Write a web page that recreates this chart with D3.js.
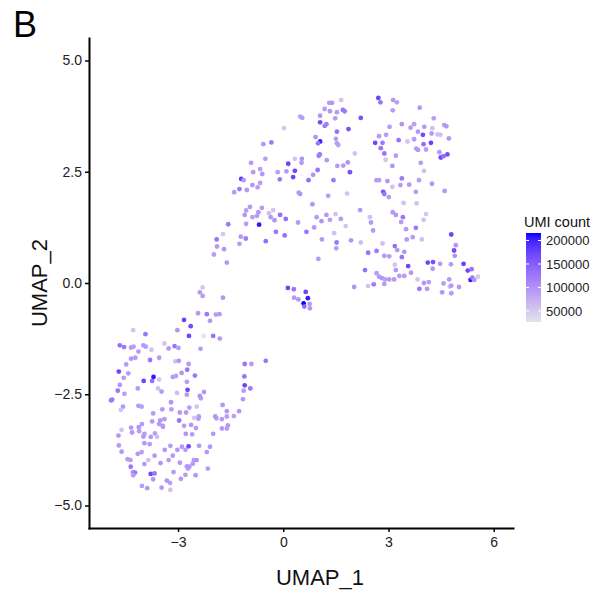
<!DOCTYPE html>
<html>
<head>
<meta charset="utf-8">
<script src="https://cdn.jsdelivr.net/npm/d3@7"></script>
<style>
	body { margin: 0; background: #fff; }
	text { font-family: "Liberation Sans", Arial, Helvetica, sans-serif; }
</style>
</head>
<body>
<div id="chart"></div>
<script>
// UMAP cells, [UMAP_1, UMAP_2, UMI count]
var cellsTop = [
	[1.31,4.05,94000],[1.39,4.05,98000],[1.18,3.91,90000],[1.33,3.86,96000],[1.53,3.84,92000],
	[1.65,4.11,56000],[1.70,3.89,130000],[1.75,3.86,122000],[0.48,3.74,86000],[0.54,3.71,92000],
	[1.05,3.76,100000],[1.48,3.70,94000],[1.05,3.61,167000],[1.18,3.53,124000],[1.23,3.57,118000],
	[1.53,3.40,132000],[0.02,3.48,52000],[0.92,3.28,98000],[1.50,3.24,92000],[1.05,3.18,200000],
	[0.99,3.14,126000],[1.53,3.14,96000],[1.57,3.10,88000],[-0.57,3.12,94000],[-0.34,3.16,122000],
	[1.04,2.89,134000],[1.01,2.86,120000],[1.24,2.76,92000],[-0.92,2.70,96000],[-0.51,2.79,90000],
	[0.53,2.79,100000],[0.52,2.70,94000],[0.33,2.79,54000],[0.14,2.68,172000],[-0.66,2.56,92000],
	[-0.60,2.45,98000],[-0.86,2.49,94000],[-0.16,2.49,88000],[0.09,2.51,96000],[0.33,2.52,170000],
	[0.98,2.54,128000],[1.54,2.63,92000],[0.85,2.43,100000],[0.28,2.38,174000],[-0.10,2.33,126000],
	[0.72,2.31,132000],[1.43,2.31,122000],[-1.20,2.34,182000],[-1.13,2.31,94000],[-0.66,2.25,92000],
	[-0.88,2.20,98000],[-0.73,2.15,90000],[-1.25,2.11,126000],[-1.04,2.09,96000],[-1.40,2.04,92000],
	[1.71,2.64,94000],[1.84,2.71,98000],[1.90,2.49,164000],[2.04,2.91,56000],[1.86,3.46,162000],
	[2.21,3.71,160000],[2.71,4.16,172000],[2.77,4.06,130000],[3.13,4.11,94000],[3.24,4.06,88000],
	[3.12,3.88,92000],[3.89,3.94,98000],[4.29,3.70,94000],[3.03,3.51,92000],[3.38,3.57,100000],
	[3.63,3.49,94000],[3.73,3.57,90000],[4.02,3.51,96000],[4.25,3.48,58000],[4.59,3.55,92000],
	[4.65,3.52,98000],[2.73,3.30,94000],[2.93,3.33,90000],[3.84,3.40,96000],[3.98,3.33,168000],
	[4.23,3.36,94000],[4.40,3.34,58000],[4.48,3.33,60000],[4.72,3.25,98000],[3.29,3.21,130000],
	[3.54,3.18,54000],[3.73,3.23,94000],[2.62,3.15,172000],[2.83,3.15,126000],[4.00,3.12,132000],
	[4.21,3.15,177000],[2.78,3.03,128000],[3.79,3.02,92000],[3.84,2.99,96000],[4.07,3.00,90000],
	[2.88,2.91,130000],[4.45,2.94,94000],[4.49,2.82,170000],[4.57,2.85,134000],[4.68,2.89,164000],
	[3.21,2.86,92000],[2.92,2.77,52000],[3.11,2.63,98000],[3.92,2.70,94000],[4.01,2.52,58000],
	[2.66,2.31,94000],[2.73,2.31,92000],[2.97,2.29,98000],[3.38,2.35,126000],[3.59,2.21,94000],
	[3.87,2.31,90000],[4.24,2.23,96000],[3.11,2.16,56000],[3.34,2.20,94000]
];

var cellsMiddle = [
	[0.44,2.03,94000],[0.48,2.00,98000],[1.28,1.96,92000],[0.83,1.77,96000],[-0.95,1.71,94000],
	[-1.06,1.63,90000],[-1.10,1.53,98000],[-0.61,1.69,92000],[-0.71,1.59,96000],[-0.75,1.51,94000],
	[-0.88,1.48,88000],[-0.41,1.57,58000],[-0.29,1.64,54000],[-0.36,1.48,94000],[-0.25,1.41,98000],
	[-0.09,1.53,132000],[0.07,1.44,134000],[-1.57,1.32,126000],[-1.06,1.33,94000],[-0.69,1.31,208000],
	[0.42,1.36,94000],[0.95,1.48,92000],[1.09,1.39,98000],[1.23,1.53,94000],[1.33,1.42,90000],
	[1.49,1.55,58000],[0.88,1.25,96000],[0.66,1.15,130000],[1.45,1.12,56000],[-0.21,1.15,128000],
	[0.04,1.07,132000],[-0.50,0.94,134000],[-1.07,1.00,124000],[-1.21,1.04,94000],[-1.25,0.88,92000],
	[-1.72,1.10,54000],[-1.90,0.98,130000],[-1.89,0.82,94000],[-1.69,0.76,98000],[-1.98,0.64,92000],
	[-1.61,0.46,94000],[1.10,0.98,96000],[1.52,0.91,126000],[1.51,0.78,92000],[1.00,0.54,94000],
	[1.93,0.96,98000],[2.21,0.91,58000],[2.19,1.64,94000],[1.64,1.44,92000],[1.78,1.28,54000],
	[1.82,2.01,56000],[2.85,2.05,167000],[2.88,2.00,128000],[3.01,1.93,94000],[3.78,2.05,92000],
	[4.60,2.07,96000],[3.43,1.80,56000],[3.80,1.79,58000],[3.12,1.59,94000],[3.21,1.53,98000],
	[3.41,1.48,130000],[4.07,1.55,54000],[4.00,1.42,58000],[2.47,1.48,56000],[2.50,1.36,94000],
	[2.56,1.18,92000],[3.36,1.37,96000],[3.50,1.21,94000],[3.69,1.03,90000],[3.78,1.24,126000],
	[3.95,0.98,56000],[3.52,0.98,94000],[2.83,0.89,58000],[3.18,0.83,132000],[3.25,0.74,94000],
	[3.45,0.70,98000],[3.38,0.58,128000],[2.42,0.68,130000],[2.66,0.72,126000],[2.88,0.61,94000],
	[3.02,0.60,92000],[3.18,0.41,54000],[3.21,0.29,94000],[3.56,0.38,172000],[3.64,0.23,96000],
	[2.33,0.29,132000],[2.66,0.22,92000],[2.73,0.14,94000],[2.81,0.11,98000],[2.90,0.08,90000],
	[3.02,0.08,94000],[3.16,0.08,96000],[3.31,0.16,92000],[3.45,0.16,94000],[2.58,-0.03,126000],
	[2.88,-0.02,94000],[2.02,-0.09,98000],[2.42,-0.07,56000],[3.83,0.08,54000],[4.01,0.00,94000],
	[4.15,0.02,92000],[3.88,-0.13,128000],[4.10,-0.13,96000],[4.12,0.46,170000],[4.27,0.47,164000],
	[4.26,0.32,94000],[4.79,1.09,172000],[4.92,0.85,94000],[4.87,0.73,168000],[4.89,0.61,98000],
	[4.78,0.42,92000],[5.14,0.43,177000],[5.26,0.28,170000],[5.37,0.31,130000],[5.34,0.07,204000],
	[5.39,0.12,126000],[5.45,0.07,94000],[5.55,0.14,52000],[4.73,0.08,94000],[4.57,-0.01,92000],
	[4.75,-0.08,56000],[4.79,-0.06,96000],[5.01,-0.09,94000],[4.53,-0.21,98000],[4.79,-0.23,92000],
	[4.47,0.43,94000]
];

var cellsIsland = [
	[0.13,-0.11,172000],[0.30,-0.14,130000],[0.64,-0.20,174000],[0.31,-0.33,94000],[0.43,-0.37,98000],
	[0.70,-0.34,204000],[0.58,-0.46,216000],[0.75,-0.47,94000],[0.60,-0.53,132000],[0.76,-0.57,96000]
];

var cellsLower = [
	[-2.30,-0.10,54000],[-2.38,-0.21,94000],[-2.30,-0.29,92000],[-1.72,-0.33,98000],[-2.43,-0.68,94000],
	[-2.18,-0.70,126000],[-1.92,-0.71,92000],[-1.82,-0.70,96000],[-2.09,-0.85,94000],[-2.83,-0.83,172000],
	[-2.64,-0.97,167000],[-2.69,-1.19,170000],[-2.27,-1.19,26500],[-2.00,-1.19,130000],[-1.81,-1.25,94000],
	[-2.36,-1.48,92000],[-3.02,-1.06,98000],[-3.93,-1.15,128000],[-4.28,-1.06,54000],[-4.66,-1.40,132000],
	[-4.54,-1.44,126000],[-4.34,-1.45,94000],[-4.27,-1.43,90000],[-3.99,-1.40,96000],[-3.92,-1.43,92000],
	[-4.13,-1.54,94000],[-3.76,-1.50,56000],[-3.39,-1.36,54000],[-3.27,-1.47,94000],[-3.10,-1.42,126000],
	[-2.99,-1.46,92000],[-4.34,-1.70,96000],[-4.22,-1.68,94000],[-3.80,-1.73,128000],[-3.54,-1.68,92000],
	[-4.48,-1.83,94000],[-3.08,-1.76,56000],[-2.98,-1.75,98000],[-2.70,-1.82,94000],[-4.69,-1.99,170000],
	[-4.42,-2.03,92000],[-4.55,-2.13,94000],[-2.90,-2.02,96000],[-2.74,-1.95,128000],[-2.52,-2.08,126000],
	[-3.15,-2.11,94000],[-3.06,-2.09,90000],[-3.98,-2.20,172000],[-3.74,-2.20,132000],[-3.70,-2.11,206000],
	[-3.54,-2.17,54000],[-4.66,-2.29,94000],[-4.72,-2.42,126000],[-4.53,-2.49,92000],[-4.15,-2.37,96000],
	[-3.57,-2.37,56000],[-3.47,-2.44,94000],[-3.03,-2.47,58000],[-2.75,-2.22,92000],[-2.73,-2.40,170000],
	[-2.26,-2.45,94000],[-2.38,-2.54,98000],[-2.35,-2.59,92000],[-4.88,-2.62,130000],[-4.91,-2.64,126000],
	[-4.57,-2.78,94000],[-4.63,-2.85,54000],[-4.13,-2.76,96000],[-4.04,-2.78,92000],[-3.45,-2.84,94000],
	[-3.20,-2.68,98000],[-3.19,-2.84,92000],[-2.95,-2.91,94000],[-2.77,-2.91,96000],[-2.68,-2.80,90000],
	[-2.47,-2.78,56000],[-3.71,-2.93,94000],[-3.39,-3.06,92000],[-3.51,-3.09,96000],[-3.54,-3.17,94000],
	[-3.44,-3.21,98000],[-3.74,-3.11,92000],[-4.03,-3.17,94000],[-4.12,-3.24,96000],[-4.11,-3.33,92000],
	[-4.34,-3.25,94000],[-4.70,-3.43,98000],[-4.61,-3.30,56000],[-4.31,-3.36,94000],[-3.96,-3.39,92000],
	[-3.99,-3.45,96000],[-3.78,-3.46,94000],[-3.66,-3.38,90000],[-3.60,-3.46,58000],[-3.43,-3.23,94000],
	[-2.97,-3.09,128000],[-2.83,-3.21,92000],[-2.63,-3.19,96000],[-2.49,-3.26,94000],[-2.78,-3.39,98000],
	[-2.60,-3.40,92000],[-2.41,-3.00,94000],[-2.42,-3.05,96000],[-2.54,-3.03,54000],[-2.00,-3.39,94000],
	[-1.91,-3.04,92000],[-1.94,-3.00,98000],[-1.75,-3.06,94000],[-1.61,-3.00,92000],[-1.73,-2.74,96000],
	[-1.61,-2.88,94000],[-1.41,-2.99,90000],[-1.26,-2.88,94000],[-1.58,-3.20,98000],[-1.61,-3.27,92000],
	[-1.75,-3.27,94000],[-1.10,-1.82,128000],[-0.91,-1.82,94000],[-0.50,-1.75,126000],[-1.11,-2.10,130000],
	[-1.10,-2.30,172000],[-0.94,-2.37,126000],[-1.13,-2.42,94000],[-1.15,-2.61,92000],[-4.69,-3.65,94000],
	[-4.61,-3.79,96000],[-4.44,-3.96,92000],[-4.36,-3.98,94000],[-4.15,-3.84,98000],[-4.04,-3.80,92000],
	[-3.96,-3.60,94000],[-3.81,-3.62,96000],[-4.35,-4.13,126000],[-4.29,-4.25,94000],[-4.23,-4.26,128000],
	[-4.28,-4.32,92000],[-3.96,-4.07,94000],[-3.85,-3.98,56000],[-3.67,-3.88,96000],[-3.38,-3.75,94000],
	[-3.22,-3.66,92000],[-3.02,-3.75,98000],[-3.15,-3.88,94000],[-3.27,-3.98,92000],[-3.50,-4.05,96000],
	[-2.89,-3.68,94000],[-2.79,-3.75,92000],[-2.70,-3.67,172000],[-2.95,-4.04,94000],[-2.75,-4.12,96000],
	[-2.72,-4.17,92000],[-2.55,-3.98,94000],[-2.47,-3.98,98000],[-2.15,-4.17,92000],[-2.18,-3.80,94000],
	[-2.09,-3.68,96000],[-2.40,-3.66,94000],[-2.58,-4.06,92000],[-3.78,-4.29,170000],[-3.67,-4.28,128000],
	[-3.71,-4.41,94000],[-4.03,-4.56,92000],[-3.88,-4.61,96000],[-3.47,-4.60,94000],[-3.32,-4.44,98000],
	[-3.23,-4.49,92000],[-3.22,-4.65,56000],[-3.13,-4.25,94000],[-2.92,-4.40,96000],[-2.79,-4.31,92000],
	[-2.50,-4.32,94000],[-2.68,-4.13,98000],[-2.75,-2.51,94000]
];

var xTicks = [-3, 0, 3, 6];
var yTicks = [-5, -2.5, 0, 2.5, 5];
var legendTicks = [50000, 100000, 150000, 200000];

var cells = cellsTop.concat(cellsMiddle, cellsIsland, cellsLower);

var svg = d3.select('#chart').append('svg')
	.attr('width', 599)
	.attr('height', 598);

var xscale = d3.scaleLinear()
	.domain([-5.54, 6.55])
	.range([89, 513]);

var yscale = d3.scaleLinear()
	.domain([-5.506, 5.506])
	.range([528, 38]);

var umiExtent = d3.extent(cells, function (d) { return d[2]; });

var colour = d3.scaleLinear()
	.domain(umiExtent)
	.range(['#e4e2ec', 'blue'])
	.interpolate(d3.interpolateLab);

// points
svg.append('g')
	.selectAll('circle')
	.data(cells)
	.enter()
	.append('circle')
	.attr('cx', function (d) { return xscale(d[0]); })
	.attr('cy', function (d) { return yscale(d[1]); })
	.attr('r', 2.4)
	.attr('fill', function (d) { return colour(d[2]); });

// axes
var yAxis = svg.append('g')
	.attr('transform', 'translate(89,0)')
	.call(d3.axisLeft(yscale).tickValues(yTicks).tickFormat(d3.format('.1f')).tickSize(4).tickSizeOuter(0).tickPadding(3));

var xAxis = svg.append('g')
	.attr('transform', 'translate(0,528)')
	.call(d3.axisBottom(xscale).tickValues(xTicks).tickFormat(d3.format('d')).tickSize(4).tickSizeOuter(0).tickPadding(5));

[yAxis, xAxis].forEach(function (ax) {
	ax.select('.domain').attr('stroke', '#000').attr('stroke-width', 2).attr('stroke-linecap', 'square');
	ax.selectAll('.tick line').attr('stroke', '#000').attr('stroke-width', 1.5);
	ax.selectAll('.tick text')
		.attr('fill', '#222')
		.attr('font-size', '14px')
		.style('font-family', '"Liberation Sans", Arial, sans-serif');
});

// axis titles
svg.append('text')
	.attr('x', 320)
	.attr('y', 585)
	.attr('text-anchor', 'middle')
	.attr('font-size', '22px')
	.attr('fill', '#111')
	.text('UMAP_1');

svg.append('text')
	.attr('transform', 'translate(47,283) rotate(-90)')
	.attr('text-anchor', 'middle')
	.attr('font-size', '22px')
	.attr('fill', '#111')
	.text('UMAP_2');

// panel tag
svg.append('text')
	.attr('x', 13)
	.attr('y', 37)
	.attr('font-size', '36px')
	.attr('fill', '#000')
	.text('B');

// colour bar legend
var barX = 526, barW = 15;
var legendScale = d3.scaleLinear()
	.domain(umiExtent)
	.range([322, 233]);

var grad = svg.append('defs').append('linearGradient')
	.attr('id', 'umiGrad')
	.attr('x1', '0').attr('y1', '1')
	.attr('x2', '0').attr('y2', '0');

grad.selectAll('stop')
	.data(d3.range(0, 1.0001, 0.05))
	.enter()
	.append('stop')
	.attr('offset', function (t) { return t; })
	.attr('stop-color', function (t) { return colour(umiExtent[0] + t * (umiExtent[1] - umiExtent[0])); });

svg.append('rect')
	.attr('x', barX)
	.attr('y', legendScale(umiExtent[1]))
	.attr('width', barW)
	.attr('height', legendScale(umiExtent[0]) - legendScale(umiExtent[1]))
	.attr('fill', 'url(#umiGrad)');

svg.append('g')
	.selectAll('line')
	.data(legendTicks.concat(legendTicks))
	.enter()
	.append('line')
	.attr('x1', function (d, i) { return i < legendTicks.length ? barX : barX + barW - 3; })
	.attr('x2', function (d, i) { return i < legendTicks.length ? barX + 3 : barX + barW; })
	.attr('y1', function (d) { return legendScale(d); })
	.attr('y2', function (d) { return legendScale(d); })
	.attr('stroke', '#fff')
	.attr('stroke-width', 1);

svg.append('g')
	.selectAll('text')
	.data(legendTicks)
	.enter()
	.append('text')
	.attr('x', barX + barW + 5)
	.attr('y', function (d) { return legendScale(d); })
	.attr('dy', '0.36em')
	.attr('font-size', '13px')
	.attr('fill', '#222')
	.text(function (d) { return d; });

svg.append('text')
	.attr('x', 524)
	.attr('y', 227)
	.attr('font-size', '14.5px')
	.attr('fill', '#111')
	.text('UMI count');
</script>
</body>
</html>
